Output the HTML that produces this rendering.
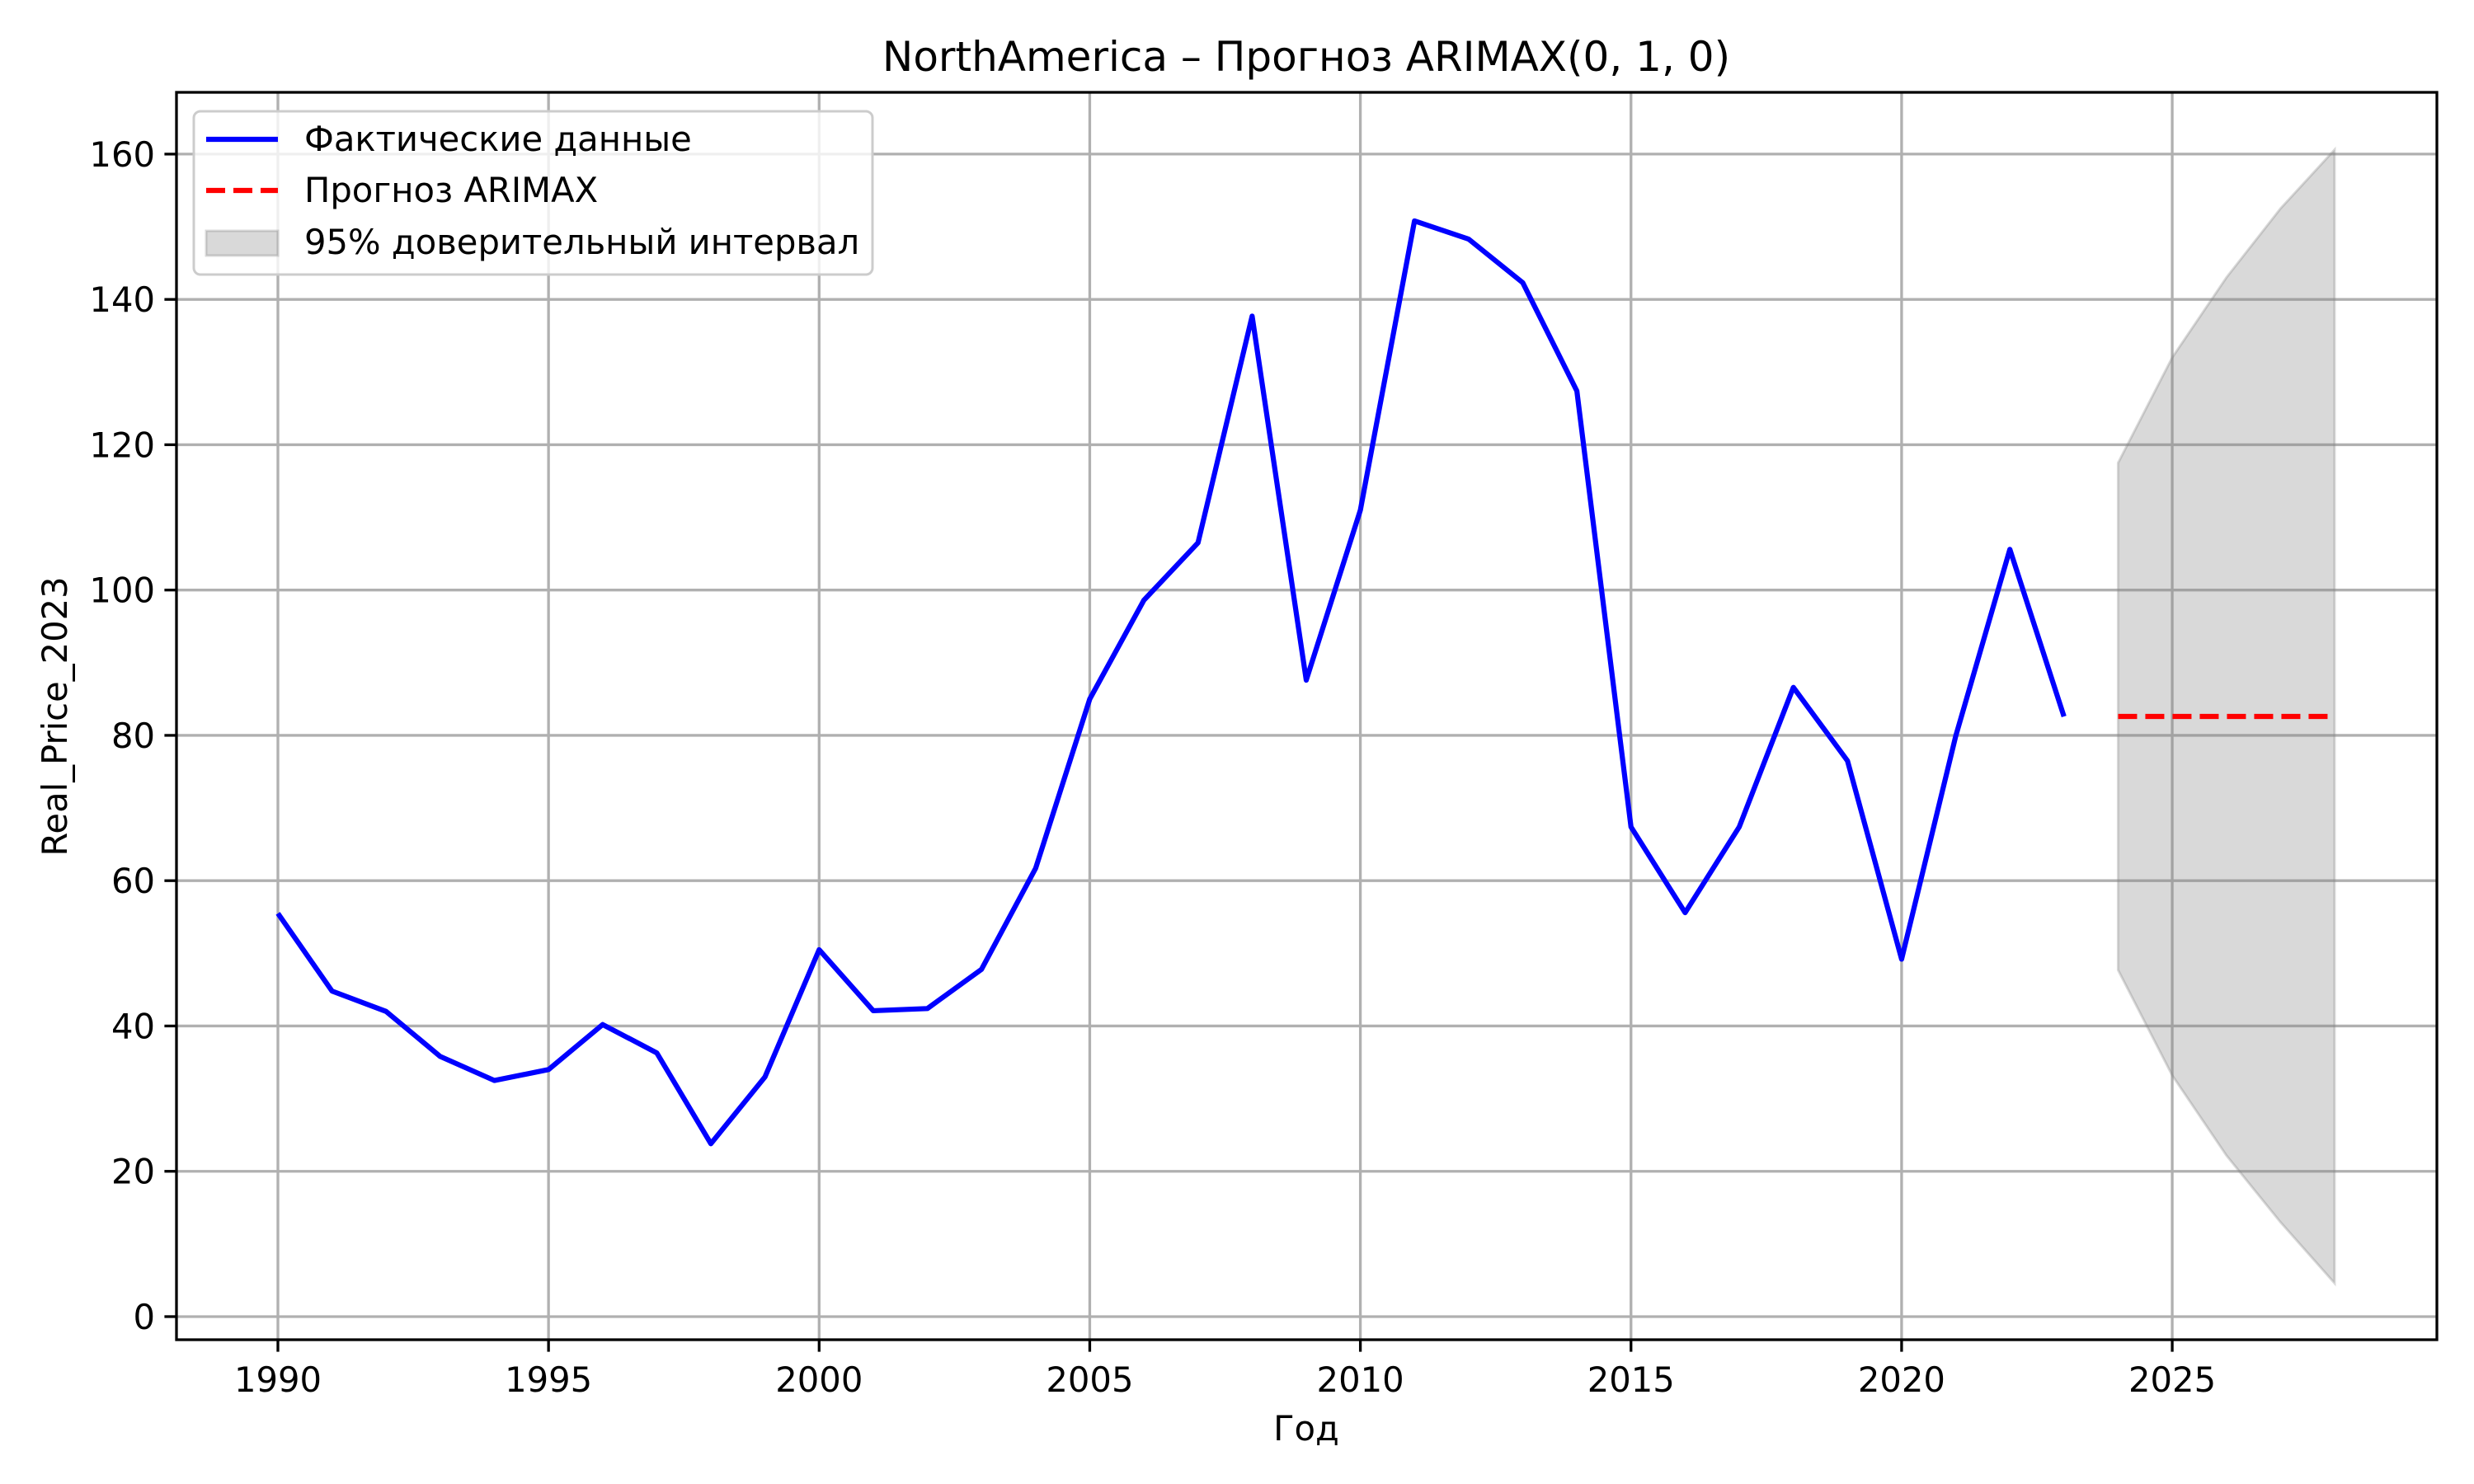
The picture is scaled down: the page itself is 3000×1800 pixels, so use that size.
<!DOCTYPE html>
<html><head><meta charset="utf-8"><style>body{margin:0;background:#fff}svg{display:block;font-family:"DejaVu Sans","Liberation Sans",sans-serif}</style></head>
<body>
<svg id="chart" width="3000" height="1800" xmlns="http://www.w3.org/2000/svg">
<rect width="3000" height="1800" fill="#fff"/>
<g id="grid"></g><g id="marks"></g><g id="axes"></g>
</svg>
<script>
const years=[1990,1991,1992,1993,1994,1995,1996,1997,1998,1999,2000,2001,2002,2003,2004,2005,2006,2007,2008,2009,2010,2011,2012,2013,2014,2015,2016,2017,2018,2019,2020,2021,2022,2023];
const actual=[55.5,44.8,42,35.8,32.5,34,40.2,36.3,23.8,33,50.5,42.1,42.4,47.8,61.7,85,98.6,106.5,137.7,87.6,111,150.8,148.3,142.3,127.4,67.4,55.6,67.4,86.6,76.5,49.2,79.9,105.6,82.6];
const fYears=[2024,2025,2026,2027,2028];
const forecast=[82.6,82.6,82.6,82.6,82.6];
const upper=[117.5,132,143,152.5,160.6];
const lower=[47.7,33.2,22.2,13,4.6];
const xTicks=[1990,1995,2000,2005,2010,2015,2020,2025];
const yTicks=[0,20,40,60,80,100,120,140,160];
const L=214,R=2955,T=112,B=1625;
const x0=1988.126,x1=2029.89,y0=-3.18,y1=168.5;
const X=v=>L+(v-x0)/(x1-x0)*(R-L);
const Y=v=>B-(v-y0)/(y1-y0)*(B-T);
const NS='http://www.w3.org/2000/svg';
function mk(p,tag,at,txt){const e=document.createElementNS(NS,tag);for(const k in at)e.setAttribute(k,at[k]);if(txt!==undefined)e.textContent=txt;p.appendChild(e);return e;}
const G=document.getElementById('grid'),M=document.getElementById('marks'),A=document.getElementById('axes');
xTicks.forEach(t=>{
 const g=mk(G,'line',{x1:X(t),x2:X(t),y1:T,y2:B,stroke:'#b0b0b0','stroke-width':3.3});
 
 const k=mk(A,'line',{x1:X(t),x2:X(t),y1:B,y2:B+14.6,stroke:'#000','stroke-width':3.3});
 
 const l=mk(A,'text',{x:X(t),y:1688,'text-anchor':'middle','font-size':41.7},t);
 
});
yTicks.forEach(t=>{
 const g=mk(G,'line',{x1:L,x2:R,y1:Y(t),y2:Y(t),stroke:'#b0b0b0','stroke-width':3.3});
 
 const k=mk(A,'line',{x1:L-14.6,x2:L,y1:Y(t),y2:Y(t),stroke:'#000','stroke-width':3.3});
 
 const l=mk(A,'text',{x:L-26,y:Y(t)+15,'text-anchor':'end','font-size':41.7},t);
 
});
let band=fYears.map((y,i)=>X(y)+','+Y(upper[i])).join(' ')+' '+fYears.map((y,i)=>X(y)+','+Y(lower[i])).reverse().join(' ');
const ci=mk(M,'polygon',{points:band,fill:'#808080','fill-opacity':0.3,stroke:'#808080','stroke-opacity':0.3,'stroke-width':3});

const act=mk(M,'polyline',{points:years.map((y,i)=>X(y)+','+Y(actual[i])).join(' '),fill:'none',stroke:'#0000ff','stroke-width':6.2,'stroke-linejoin':'round'});

const fc=mk(M,'polyline',{points:fYears.map((y,i)=>X(y)+','+Y(forecast[i])).join(' '),fill:'none',stroke:'#ff0000','stroke-width':6.2,'stroke-dasharray':'23 10'});

const fr=mk(A,'rect',{x:L,y:T,width:R-L,height:B-T,fill:'none',stroke:'#000','stroke-width':3.3});

</script>
<svg style="position:absolute;left:0;top:0" width="3000" height="1800" xmlns="http://www.w3.org/2000/svg" font-family="DejaVu Sans, Liberation Sans, sans-serif">
<text x="1584" y="86" text-anchor="middle" font-size="50">NorthAmerica – Прогноз ARIMAX(0, 1, 0)</text>
<text x="1584" y="1747" text-anchor="middle" font-size="41.7">Год</text>
<text transform="translate(81,869) rotate(-90)" text-anchor="middle" font-size="41.7">Real_Price_2023</text>
<g>
<rect x="235" y="135" width="823" height="198" rx="8" fill="#fff" fill-opacity="0.8" stroke="#ccc" stroke-width="3"/>
<line x1="250" x2="337" y1="169" y2="169" stroke="#0000ff" stroke-width="6.2"/>
<text x="369" y="183" font-size="41.7">Фактические данные</text>
<line x1="250" x2="337" y1="231" y2="231" stroke="#ff0000" stroke-width="6.2" stroke-dasharray="23 10"/>
<text x="369" y="245" font-size="41.7">Прогноз ARIMAX</text>
<rect x="250" y="280" width="87" height="30" fill="#808080" fill-opacity="0.3" stroke="#808080" stroke-opacity="0.3" stroke-width="3"/>
<text x="369" y="308" font-size="41.7">95% доверительный интервал</text>
</g>
</svg>
</body></html>
